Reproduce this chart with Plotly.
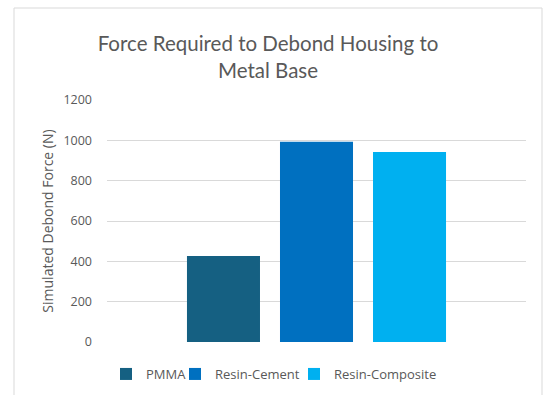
import plotly.graph_objects as go

series = ["PMMA", "Resin-Cement", "Resin-Composite"]
values = [426, 993, 942]
colors = ["#156082", "#0070C0", "#00B0F0"]
category = [""]
y_ticks = [0, 200, 400, 600, 800, 1000, 1200]

W, H = 543, 395
L, R, T, B = 107, 17, 100, 53
pw, ph = W - L - R, H - T - B

def px(x):
    return (x - L) / pw

def py(y):
    return (H - B - y) / ph

legend_ids = ["legend", "legend2", "legend3"]
legend_marker_x = [130, 199, 318]

fig = go.Figure()
for name, v, c, lg in zip(series, values, colors, legend_ids):
    fig.add_trace(go.Bar(x=category, y=[v], name=name, legend=lg,
                         marker=dict(color=c, line=dict(width=0))))

legend_common = dict(orientation="h", xref="container", yref="container", xanchor="left",
                     y=1 - 374 / H, yanchor="middle", bgcolor="rgba(0,0,0,0)",
                     font=dict(family="Open Sans, sans-serif", size=13, color="#595959"))
legend_layouts = {}
for lg, mx in zip(legend_ids, legend_marker_x):
    legend_layouts[lg] = dict(legend_common, x=(mx - 24) / W)

fig.update_layout(
    width=W, height=H,
    margin=dict(l=L, r=R, t=T, b=B, autoexpand=False),
    paper_bgcolor="white", plot_bgcolor="white",
    barmode="group", bargap=0.334, bargroupgap=0.215,
    font=dict(family="Open Sans, sans-serif", color="#595959"),
    title=dict(text="Force Required to Debond Housing to<br>Metal Base",
               x=268 / W, xref="container", xanchor="center",
               y=1 - 51 / H, yref="container", yanchor="middle",
               font=dict(family="Lato, sans-serif", size=20.5, color="#595959")),
    xaxis=dict(showticklabels=False, showgrid=False, zeroline=False, showline=False, ticks=""),
    yaxis=dict(range=[0, 1200], tickvals=y_ticks, showgrid=True, gridcolor="#d9d9d9", gridwidth=1,
               zeroline=False, showline=False, ticks="", ticklabelstandoff=14,
               tickfont=dict(size=12.5, color="#595959"),
               title=dict(text="Simulated Debond Force (N)", font=dict(size=14, color="#595959"), standoff=6)),
    showlegend=True,
    shapes=[dict(type="rect", xref="paper", yref="paper",
                 x0=px(14), x1=px(542), y0=py(397), y1=py(8),
                 line=dict(color="#d9d9d9", width=1), fillcolor="rgba(0,0,0,0)", layer="below")],
    **legend_layouts,
)

fig.write_html("out.html")
